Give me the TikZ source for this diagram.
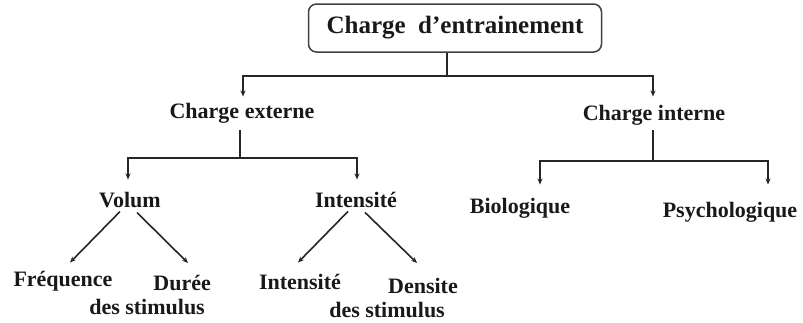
\documentclass[tikz,border=0pt]{standalone}
\usepackage{fontspec}
\setmainfont{Liberation Serif}
\usetikzlibrary{arrows.meta,positioning,calc}

\begin{document}
\begin{tikzpicture}[x=1pt, y=-1pt,
    lbl/.style={font=\fontsize{22}{24}\selectfont\bfseries, text=black!90,
                anchor=base, inner sep=2pt},
    rootbox/.style={draw=black!75, line width=1.5pt, rounded corners=8pt,
                    minimum width=293pt, minimum height=48pt, text=black!90,
                    font=\fontsize{25}{28}\selectfont\bfseries},
    ln/.style={line width=1.6pt, draw=black!85},
    arr/.style={ln, -{Stealth[length=6pt,width=5pt]}}]
    \useasboundingbox (0,0) rectangle (803,322);

    % Root
    \node[rootbox] (root) at (455,28) {Charge\ \ d'entrainement};

    % Second level
    \node[lbl] (ext) at (242,118) {Charge externe};
    \node[lbl] (int) at (654,120) {Charge interne};

    % Third level
    \node[lbl] (vol) at (130,207) {Volum};
    \node[lbl] (inten) at (356,207) {Intensité};
    \node[lbl] (bio) at (520,213) {Biologique};
    \node[lbl] (psy) at (730,217) {Psychologique};

    % Leaves
    \node[lbl] (freq) at (63,286) {Fréquence};
    \node[lbl, anchor=north east, align=right] (dur) at (213,273) {Durée\\des stimulus\hspace*{6pt}};
    \node[lbl] (intb) at (300,289) {Intensité};
    \node[lbl, anchor=north east, align=right] (dens) at (460,276) {Densite\\des stimulus\hspace*{13pt}};

    % Root branches
    \coordinate (rj) at (447,76);
    \draw[ln] (root.south -| rj) -- (rj);
    \draw[arr] (rj) -| ([shift={(1,-4)}]ext.north);
    \draw[arr] (rj) -| ([shift={(-1,-6)}]int.north);

    % Charge externe branches
    \coordinate (ej) at (240,158);
    \draw[ln] ([yshift=-5pt]ext.south -| ej) -- (ej);
    \draw[arr] (ej) -| ([shift={(-2,-10)}]vol.north);
    \draw[arr] (ej) -| ([shift={(1,-10)}]inten.north);

    % Charge interne branches
    \coordinate (ij) at (653,161);
    \draw[ln] ([yshift=-3pt]int.south -| ij) -- (ij);
    \draw[arr] (ij) -| ([shift={(20,-11)}]bio.north);
    \draw[arr] (ij) -| ([shift={(38,-15)}]psy.north);

    % Diagonal arrows
    \draw[arr] ([shift={(-10,2)}]vol.south) -- ([shift={(7,-6)}]freq.north);
    \draw[arr] ([shift={(7,3)}]vol.south) -- ([shift={(-25,-10)}]dur.north east);
    \draw[arr] ([shift={(-8,2)}]inten.south) -- ([shift={(-2,-9)}]intb.north);
    \draw[arr] ([shift={(9,3)}]inten.south) -- ([shift={(-43,-13)}]dens.north east);
\end{tikzpicture}
\end{document}
